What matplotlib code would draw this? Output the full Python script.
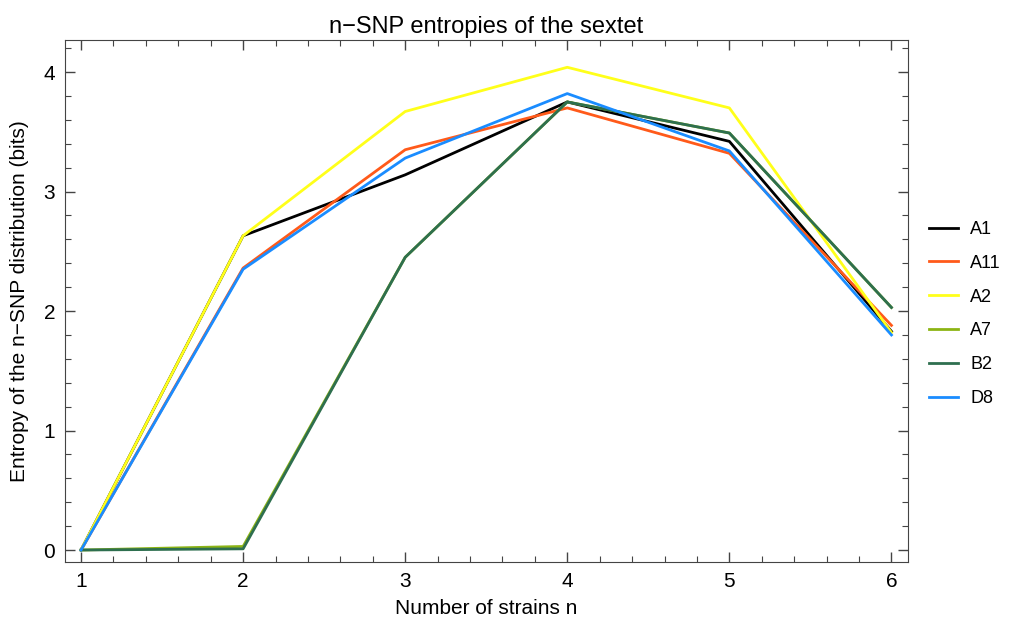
import matplotlib
matplotlib.use("Agg")
import matplotlib.pyplot as plt
from matplotlib.ticker import MultipleLocator

plt.rcParams["font.family"] = ["Liberation Sans", "DejaVu Sans"]

n_strains = [1, 2, 3, 4, 5, 6]
series_names = ["A1", "A11", "A2", "A7", "B2", "D8"]
a1 = [0.0, 2.63, 3.14, 3.75, 3.42, 1.83]
a11 = [0.0, 2.36, 3.35, 3.70, 3.32, 1.88]
a2 = [0.0, 2.63, 3.67, 4.04, 3.70, 1.82]
a7 = [0.0, 0.03, 2.45, 3.75, 3.49, 2.03]
b2 = [0.0, 0.01, 2.45, 3.75, 3.49, 2.03]
d8 = [0.0, 2.35, 3.28, 3.82, 3.34, 1.80]
series_colors = ["#000000", "#ff5a1a", "#ffff1a", "#8cb414", "#2e6f4f", "#1a8cff"]


def main() -> None:
    fig = plt.figure(figsize=(10.13, 6.22), dpi=100)
    ax = fig.add_axes([0.064, 0.0965, 0.832, 0.8395])

    for name, vals, color in zip(series_names, [a1, a11, a2, a7, b2, d8], series_colors):
        ax.plot(n_strains, vals, color=color, lw=2.0, label=name)

    ax.set_xlim(0.9, 6.1)
    ax.set_ylim(-0.1, 4.27)
    ax.xaxis.set_major_locator(MultipleLocator(1))
    ax.xaxis.set_minor_locator(MultipleLocator(0.2))
    ax.yaxis.set_major_locator(MultipleLocator(1))
    ax.yaxis.set_minor_locator(MultipleLocator(0.2))
    ax.tick_params(which="both", direction="in", top=True, right=True, colors="#444444",
                   labelcolor="black", labelsize=15)
    ax.tick_params(which="major", length=7, width=1, pad=7)
    ax.tick_params(which="minor", length=4, width=0.8)
    for sp in ax.spines.values():
        sp.set_color("#444444")

    ax.set_title("n\u2212SNP entropies of the sextet", fontsize=17, pad=5)
    ax.set_xlabel("Number of strains n", fontsize=15, labelpad=6)
    ax.set_ylabel("Entropy of the n\u2212SNP distribution (bits)", fontsize=15, labelpad=10)

    ax.legend(loc="center left", bbox_to_anchor=(1.01, 0.475), frameon=False, fontsize=13,
              handlelength=1.6, handletextpad=0.7, labelspacing=0.93, borderaxespad=0.3)

    fig.savefig("out.png", dpi=100)
    plt.close(fig)


if __name__ == "__main__":
    main()
